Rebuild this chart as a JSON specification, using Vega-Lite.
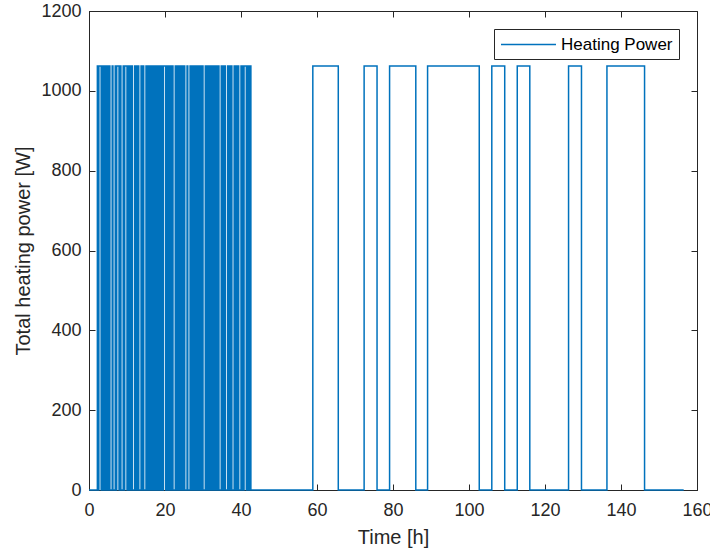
{
  "$schema": "https://vega.github.io/schema/vega-lite/v6.json",
  "autosize": {"type": "none"},
  "padding": {"left": 89, "top": 11, "right": 13, "bottom": 58},
  "width": 608,
  "height": 479,
  "background": "white",
  "config": {
    "view": {"stroke": "#262626", "strokeWidth": 1},
    "font": "Liberation Sans",
    "axis": {
      "grid": false,
      "domainColor": "#262626",
      "tickColor": "#262626",
      "labelColor": "#262626",
      "titleColor": "#262626",
      "labelFont": "Liberation Sans",
      "titleFont": "Liberation Sans",
      "labelFontSize": 18,
      "titleFontSize": 20,
      "titleFontWeight": "normal",
      "tickSize": -6,
      "domainWidth": 1,
      "tickWidth": 1,
      "labelFlush": false,
      "format": "d"
    }
  },
  "datasets": {
    "d": [
      {"t":0,"p":0},
      {"t":2.2,"p":1062},{"t":2.4,"p":0},{"t":2.6,"p":1062},{"t":3.2,"p":0},{"t":3.45,"p":1062},{"t":3.7,"p":0},{"t":3.95,"p":1062},{"t":4.2,"p":0},{"t":4.4,"p":1062},{"t":4.65,"p":0},{"t":4.9,"p":1062},{"t":5.1,"p":0},{"t":5.3,"p":1062},{"t":5.5,"p":0},{"t":6.1,"p":1062},{"t":6.3,"p":0},{"t":6.9,"p":1062},{"t":7.1,"p":0},{"t":7.3,"p":1062},{"t":7.9,"p":0},{"t":8.15,"p":1062},{"t":8.4,"p":0},{"t":9.0,"p":1062},{"t":9.2,"p":0},{"t":9.4,"p":1062},{"t":10.0,"p":0},{"t":10.25,"p":1062},{"t":10.5,"p":0},{"t":10.75,"p":1062},{"t":11.0,"p":0},{"t":11.2,"p":1062},{"t":11.4,"p":0},{"t":12.0,"p":1062},{"t":12.25,"p":0},{"t":12.5,"p":1062},{"t":12.7,"p":0},{"t":12.9,"p":1062},{"t":13.1,"p":0},{"t":13.7,"p":1062},{"t":13.95,"p":0},{"t":14.2,"p":1062},{"t":14.4,"p":0},{"t":15.0,"p":1062},{"t":15.25,"p":0},{"t":15.5,"p":1062},{"t":15.7,"p":0},{"t":15.95,"p":1062},{"t":16.2,"p":0},{"t":16.4,"p":1062},{"t":16.65,"p":0},{"t":16.9,"p":1062},{"t":17.1,"p":0},{"t":17.35,"p":1062},{"t":17.6,"p":0},{"t":17.8,"p":1062},{"t":18.05,"p":0},{"t":18.3,"p":1062},{"t":18.5,"p":0},{"t":18.75,"p":1062},{"t":19.0,"p":0},{"t":19.2,"p":1062},{"t":19.4,"p":0},{"t":19.6,"p":1062},{"t":20.2,"p":0},{"t":20.45,"p":1062},{"t":20.7,"p":0},{"t":20.9,"p":1062},{"t":21.15,"p":0},{"t":21.4,"p":1062},{"t":21.6,"p":0},{"t":21.85,"p":1062},{"t":22.1,"p":0},{"t":22.7,"p":1062},{"t":22.95,"p":0},{"t":23.2,"p":1062},{"t":23.4,"p":0},{"t":23.65,"p":1062},{"t":23.9,"p":0},{"t":24.1,"p":1062},{"t":24.35,"p":0},{"t":24.6,"p":1062},{"t":24.8,"p":0},{"t":25.0,"p":1062},{"t":25.2,"p":0},{"t":25.8,"p":1062},{"t":26.0,"p":0},{"t":26.6,"p":1062},{"t":26.85,"p":0},{"t":27.1,"p":1062},{"t":27.3,"p":0},{"t":27.55,"p":1062},{"t":27.8,"p":0},{"t":28.0,"p":1062},{"t":28.25,"p":0},{"t":28.5,"p":1062},{"t":28.7,"p":0},{"t":28.95,"p":1062},{"t":29.2,"p":0},{"t":29.4,"p":1062},{"t":29.6,"p":0},{"t":29.8,"p":1062},{"t":30.0,"p":0},{"t":30.6,"p":1062},{"t":30.85,"p":0},{"t":31.1,"p":1062},{"t":31.3,"p":0},{"t":31.55,"p":1062},{"t":31.8,"p":0},{"t":32.0,"p":1062},{"t":32.25,"p":0},{"t":32.5,"p":1062},{"t":32.7,"p":0},{"t":32.95,"p":1062},{"t":33.2,"p":0},{"t":33.4,"p":1062},{"t":33.65,"p":0},{"t":33.9,"p":1062},{"t":34.2,"p":0},{"t":34.8,"p":1062},{"t":35.05,"p":0},{"t":35.3,"p":1062},{"t":35.5,"p":0},{"t":35.7,"p":1062},{"t":35.9,"p":0},{"t":36.5,"p":1062},{"t":36.75,"p":0},{"t":37.0,"p":1062},{"t":37.2,"p":0},{"t":37.4,"p":1062},{"t":37.6,"p":0},{"t":38.2,"p":1062},{"t":38.45,"p":0},{"t":38.7,"p":1062},{"t":38.9,"p":0},{"t":39.15,"p":1062},{"t":39.4,"p":0},{"t":40.0,"p":1062},{"t":40.2,"p":0},{"t":40.4,"p":1062},{"t":40.6,"p":0},{"t":40.8,"p":1062},{"t":41.4,"p":0},{"t":41.6,"p":1062},{"t":41.8,"p":0},{"t":42.0,"p":1062},{"t":42.2,"p":0},{"t":42.4,"p":1062},{"t":42.6,"p":0},
      {"t":58.9,"p":1062},{"t":65.6,"p":0},{"t":72.4,"p":1062},{"t":75.8,"p":0},{"t":79.1,"p":1062},{"t":86.0,"p":0},{"t":89.1,"p":1062},{"t":102.7,"p":0},{"t":106.0,"p":1062},{"t":109.4,"p":0},{"t":112.7,"p":1062},{"t":116.0,"p":0},{"t":126.2,"p":1062},{"t":129.6,"p":0},{"t":136.3,"p":1062},{"t":146.2,"p":0},{"t":156.5,"p":0}
    ]
  },
  "data": {"name": "d"},
  "layer": [
    {
      "mark": {"type": "line", "interpolate": "step-after", "strokeWidth": 1.5, "clip": false},
      "encoding": {
        "x": {"field": "t", "type": "quantitative", "scale": {"domain": [0, 160], "nice": false},
          "axis": {"orient": "bottom", "title": "Time [h]", "values": [0,20,40,60,80,100,120,140,160], "labelPadding": 17, "titlePadding": 8}},
        "y": {"field": "p", "type": "quantitative", "scale": {"domain": [0, 1200], "nice": false},
          "axis": {"orient": "left", "title": "Total heating power [W]", "values": [0,200,400,600,800,1000,1200], "labelPadding": 14, "titlePadding": 7}},
        "color": {"datum": "Heating Power", "type": "nominal",
          "scale": {"range": ["#0072BD"]},
          "legend": {"title": null, "orient": "none", "legendX": 405, "legendY": 18,
            "symbolType": "M-1,0H5.47", "symbolSize": 289, "symbolStrokeWidth": 1.5,
            "symbolFillColor": "transparent",
            "labelFont": "Liberation Sans", "labelFontSize": 17, "labelColor": "#000000",
            "labelOffset": 42, "padding": 6, "strokeColor": "#262626", "fillColor": "white"}}
      }
    },
    {
      "mark": {"type": "line", "strokeOpacity": 0},
      "encoding": {
        "x": {"field": "t", "type": "quantitative",
          "axis": {"orient": "top", "title": null, "labels": false, "domain": false, "values": [0,20,40,60,80,100,120,140,160]}},
        "y": {"field": "p", "type": "quantitative",
          "axis": {"orient": "right", "title": null, "labels": false, "domain": false, "values": [0,200,400,600,800,1000,1200]}}
      }
    }
  ],
  "resolve": {"axis": {"x": "independent", "y": "independent"}}
}
